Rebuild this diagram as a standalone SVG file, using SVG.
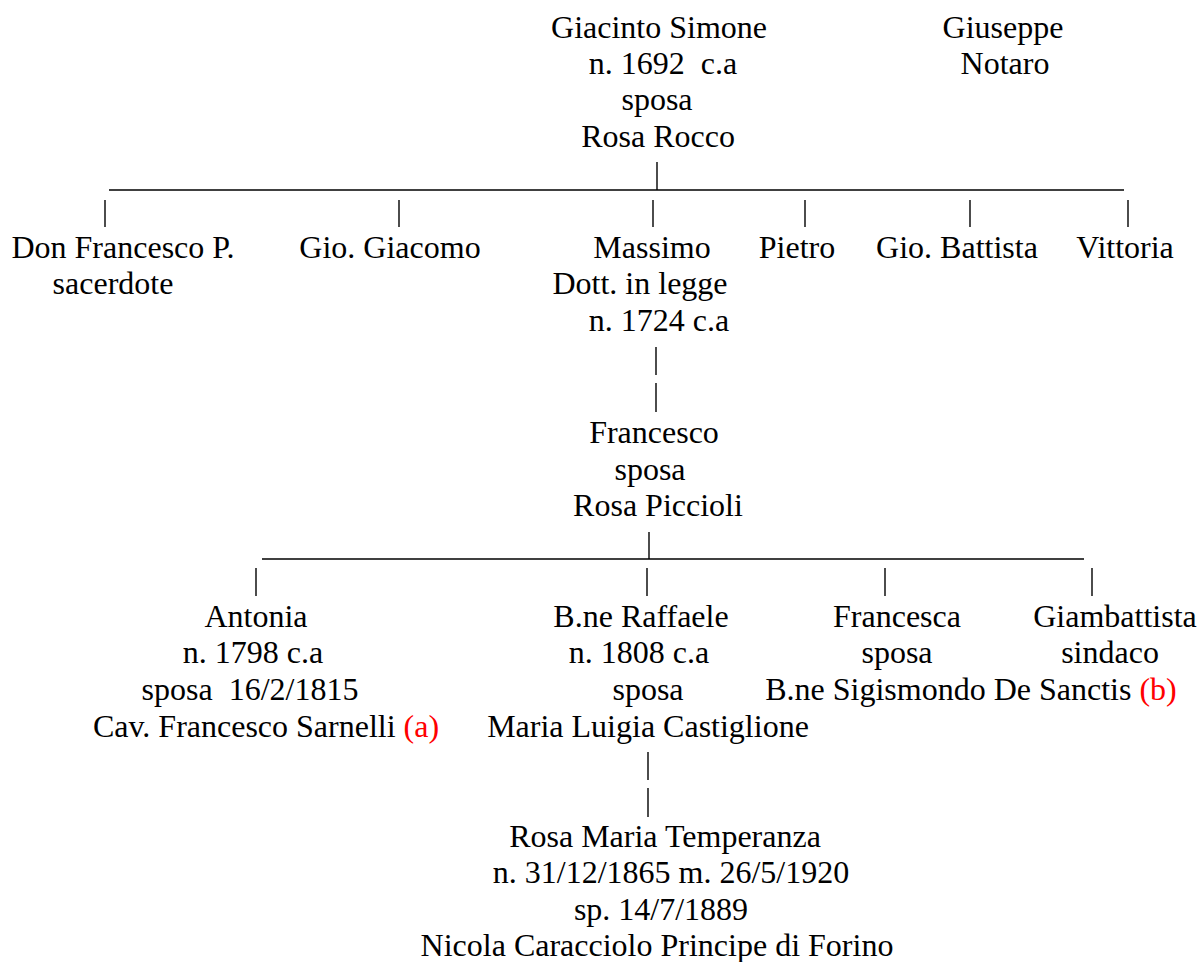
<svg xmlns="http://www.w3.org/2000/svg" width="1200" height="962" viewBox="0 0 1200 962">
<style>
text{font-family:"Liberation Serif","Times New Roman",serif;font-size:32px;fill:#000;text-anchor:middle}
.red{fill:#ff0000}
.c line{stroke:#000;stroke-width:1.4}
</style>
<rect width="1200" height="962" fill="#fff"/>
<g id="giacinto">
<text x="659" y="38">Giacinto Simone</text>
<text x="663" y="74" xml:space="preserve">n. 1692  c.a</text>
<text x="657" y="110">sposa</text>
<text x="658" y="147">Rosa Rocco</text>
</g>
<g id="giuseppe">
<text x="1003" y="38">Giuseppe</text>
<text x="1005" y="74">Notaro</text>
</g>
<g id="don-francesco">
<text x="123" y="258">Don Francesco P.</text>
<text x="113" y="294">sacerdote</text>
</g>
<g id="gio-giacomo"><text x="390" y="258">Gio. Giacomo</text></g>
<g id="massimo">
<text x="652" y="258">Massimo</text>
<text x="640" y="294">Dott. in legge</text>
<text x="659" y="331">n. 1724 c.a</text>
</g>
<g id="pietro"><text x="797" y="258">Pietro</text></g>
<g id="gio-battista"><text x="957" y="258">Gio. Battista</text></g>
<g id="vittoria"><text x="1125" y="258">Vittoria</text></g>
<g id="francesco">
<text x="654" y="443">Francesco</text>
<text x="650" y="480">sposa</text>
<text x="658" y="516">Rosa Piccioli</text>
</g>
<g id="antonia">
<text x="256" y="627">Antonia</text>
<text x="253" y="663">n. 1798 c.a</text>
<text x="250" y="700" xml:space="preserve">sposa  16/2/1815</text>
<text x="266" y="737">Cav. Francesco Sarnelli <tspan class="red">(a)</tspan></text>
</g>
<g id="raffaele">
<text x="641" y="627">B.ne Raffaele</text>
<text x="639" y="663">n. 1808 c.a</text>
<text x="648" y="700">sposa</text>
<text x="648" y="737">Maria Luigia Castiglione</text>
</g>
<g id="francesca">
<text x="897" y="627">Francesca</text>
<text x="897" y="663">sposa</text>
<text x="971" y="700">B.ne Sigismondo De Sanctis <tspan class="red">(b)</tspan></text>
</g>
<g id="giambattista">
<text x="1115" y="627">Giambattista</text>
<text x="1110" y="663">sindaco</text>
</g>
<g id="rosa-maria">
<text x="665" y="847">Rosa Maria Temperanza</text>
<text x="671" y="883">n. 31/12/1865 m. 26/5/1920</text>
<text x="661" y="920">sp. 14/7/1889</text>
<text x="657" y="956">Nicola Caracciolo Principe di Forino</text>
</g>
<g id="connectors" class="c">
<line x1="657" y1="162" x2="657" y2="190"/>
<line x1="109" y1="190" x2="1124" y2="190"/>
<line x1="105" y1="200" x2="105" y2="227"/>
<line x1="399" y1="200" x2="399" y2="227"/>
<line x1="653" y1="200" x2="653" y2="227"/>
<line x1="805" y1="200" x2="805" y2="227"/>
<line x1="970" y1="200" x2="970" y2="227"/>
<line x1="1128" y1="200" x2="1128" y2="227"/>
<line x1="656" y1="347" x2="656" y2="375"/>
<line x1="656" y1="383" x2="656" y2="412"/>
<line x1="649" y1="532" x2="649" y2="559"/>
<line x1="262" y1="559" x2="1084" y2="559"/>
<line x1="256" y1="568" x2="256" y2="596"/>
<line x1="647" y1="568" x2="647" y2="596"/>
<line x1="885" y1="568" x2="885" y2="596"/>
<line x1="1092" y1="568" x2="1092" y2="596"/>
<line x1="648" y1="752" x2="648" y2="780"/>
<line x1="648" y1="788" x2="648" y2="817"/>
</g>
</svg>
